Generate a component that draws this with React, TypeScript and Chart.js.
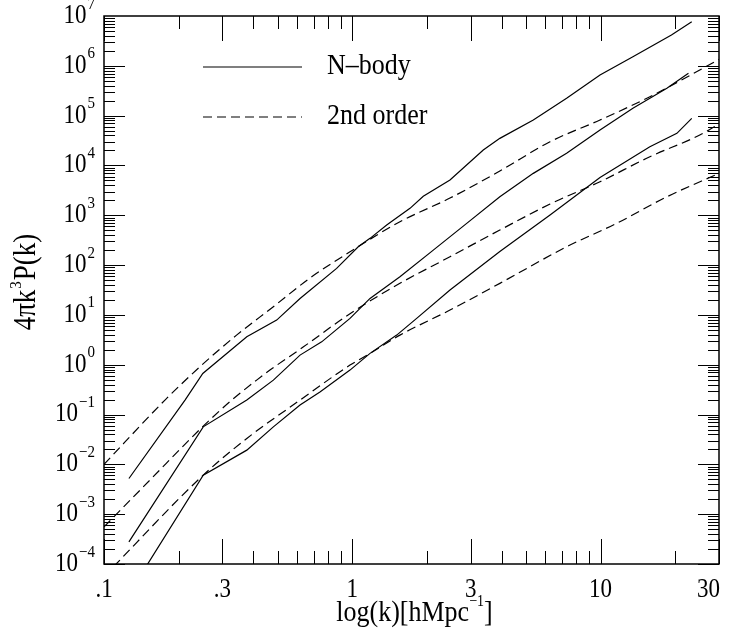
import React, { useEffect, useRef } from "react";
import { Chart, registerables } from "chart.js";
Chart.register(...registerables);

// ---- data (k in h/Mpc, 4*pi*k^3*P(k)) ----
const nbody1K = [0.126, 0.212, 0.25, 0.376, 0.496, 0.616, 0.865, 1.057, 1.179, 1.376, 1.708, 1.932, 2.475, 3.37, 3.93, 5.36, 7.3, 9.95, 13.5, 19.3, 23.3];
const nbody1P = [5.2e-3, 0.195, 0.668, 3.63, 7.87, 21.4, 85.9, 233, 344, 635, 1377, 2400, 5093, 20370, 34990, 81660, 222300, 653100, 1.524e6, 4.15e6, 7.69e6];

const second1K = [0.1, 0.176, 0.2475, 0.342, 0.481, 0.675, 0.979, 1.556, 2.475, 3.93, 6.26, 9.95, 15.8, 25.1, 30];
const second1P = [0.01, 0.195, 0.982, 3.93, 14.6, 54.8, 185, 741, 2213, 7727, 29920, 81660, 239900, 824100, 1.349e6];

const nbody2K = [0.126, 0.251, 0.376, 0.481, 0.616, 0.753, 0.979, 1.179, 1.556, 2.12, 2.89, 3.93, 5.36, 7.3, 9.95, 13.5, 18.5, 22.6];
const nbody2P = [2.78e-4, 0.0566, 0.195, 0.491, 1.56, 2.88, 8.51, 21.4, 58.2, 200, 687, 2350, 6934, 17500, 51400, 140300, 353200, 706300];

const second2K = [0.1, 0.153, 0.251, 0.327, 0.412, 0.466, 0.634, 0.979, 1.556, 2.475, 3.93, 6.26, 9.95, 15.8, 25.1, 30];
const second2P = [5.56e-4, 4.82e-3, 0.0585, 0.195, 0.491, 0.78, 2.26, 10.6, 43.0, 147, 505, 1679, 4710, 14960, 40740, 67760];

const nbody3K = [0.126, 0.251, 0.376, 0.481, 0.616, 0.741, 0.979, 1.179, 1.51, 1.817, 2.475, 3.93, 6.26, 9.95, 15.8, 20.3, 23.3];
const nbody3P = [2.5e-5, 6.07e-3, 0.0193, 0.0566, 0.155, 0.285, 0.78, 1.69, 3.93, 8.51, 31.5, 186.6, 1009, 5715, 23770, 44160, 88310];

const second3K = [0.1, 0.251, 0.376, 0.616, 0.979, 1.179, 1.556, 2.475, 3.93, 7.3, 11.6, 18.5, 30];
const second3P = [5.61e-5, 6.07e-3, 0.0331, 0.195, 0.982, 1.69, 3.93, 12.5, 43.0, 233, 687, 2350, 6934];

const xTickValues = [0.1, 0.3, 1, 3, 10, 30];
const xTickLabels = [".1", ".3", "1", "3", "10", "30"];
const yTickExponents = [-4, -3, -2, -1, 0, 1, 2, 3, 4, 5, 6, 7];
const legendLabels = ["N\u2013body", "2nd order"];

const X_MIN = 0.1, X_MAX = 30, Y_MIN = 1e-4, Y_MAX = 1e7;
const FONT = "'Liberation Serif', 'DejaVu Serif', serif";
const STRETCH = 1.15;

function txt(ctx: CanvasRenderingContext2D, s: string, x: number, y: number, size: number, align: CanvasTextAlign) {
  ctx.save();
  ctx.translate(x, y);
  ctx.scale(1, STRETCH);
  ctx.font = `${size}px ${FONT}`;
  ctx.textAlign = align;
  ctx.textBaseline = "middle";
  ctx.fillText(s, 0, 0);
  ctx.restore();
}
function w(ctx: CanvasRenderingContext2D, s: string, size: number) {
  ctx.save();
  ctx.font = `${size}px ${FONT}`;
  const m = ctx.measureText(s).width;
  ctx.restore();
  return m;
}

const decorPlugin = {
  id: "decor",
  afterDraw(chart: any) {
    const ctx: CanvasRenderingContext2D = chart.ctx;
    const { left, right, top, bottom } = chart.chartArea;
    const xs = chart.scales.x, ys = chart.scales.y;
    ctx.save();
    ctx.strokeStyle = "#000";
    ctx.fillStyle = "#000";
    ctx.lineWidth = 1;
    const isMajorX = (v: number) => xTickValues.some((t) => Math.abs(Math.log10(t) - Math.log10(v)) < 1e-6);
    // x ticks
    for (let e = -1; e <= 1; e++) {
      for (let m = 1; m <= 9; m++) {
        const v = m * Math.pow(10, e);
        if (v < X_MIN * 0.999 || v > X_MAX * 1.001) continue;
        const px = Math.round(xs.getPixelForValue(v)) + 0.5;
        const len = isMajorX(v) ? 25 : 13;
        ctx.beginPath();
        ctx.moveTo(px, bottom); ctx.lineTo(px, bottom - len);
        ctx.moveTo(px, top); ctx.lineTo(px, top + len);
        ctx.stroke();
      }
    }
    // y ticks
    for (let e = -4; e <= 6; e++) {
      for (let m = 1; m <= 9; m++) {
        const v = m * Math.pow(10, e);
        const py = Math.round(ys.getPixelForValue(v)) + 0.5;
        const len = m === 1 ? 21 : 11;
        ctx.beginPath();
        ctx.moveTo(left, py); ctx.lineTo(left + len, py);
        ctx.moveTo(right, py); ctx.lineTo(right - len, py);
        ctx.stroke();
      }
    }
    // frame
    ctx.lineWidth = 1.5;
    ctx.strokeRect(left, top, right - left, bottom - top);

    // y tick labels
    const base = 23, sup = 15;
    yTickExponents.forEach((e) => {
      const py = ys.getPixelForValue(Math.pow(10, e));
      const es = (e < 0 ? "\u2212" : "") + Math.abs(e);
      const we = w(ctx, es, sup);
      const xr = left - 9;
      txt(ctx, "10", xr - we - 1, py, base, "right");
      txt(ctx, es, xr - we, py - 12, sup, "left");
    });
    // x tick labels
    xTickValues.forEach((v, i) => {
      let px = xs.getPixelForValue(v);
      const tw = w(ctx, xTickLabels[i], base);
      if (px + tw / 2 > right + 1) px = right + 1 - tw / 2;
      txt(ctx, xTickLabels[i], px, bottom + 26, base, "center");
    });
    // x title
    {
      const a = "log(k)[hMpc", s = "\u22121", b = "]";
      const size = 26, ss = 14;
      const wa = w(ctx, a, size), ws = w(ctx, s, ss), wb = w(ctx, b, size);
      const total = wa + ws + wb;
      const cx = (left + right) / 2 + 3;
      const x0 = cx - total / 2;
      const y0 = bottom + 49;
      txt(ctx, a, x0, y0, size, "left");
      txt(ctx, s, x0 + wa, y0 - 11, ss, "left");
      txt(ctx, b, x0 + wa + ws, y0, size, "left");
    }
    // y title (rotated)
    {
      ctx.save();
      ctx.translate(27, (top + bottom) / 2 - 8);
      ctx.rotate(-Math.PI / 2);
      const a = "4\u03C0k", s = "3", b = "P(k)";
      const size = 27, ss = 15;
      const wa = w(ctx, a, size), ws = w(ctx, s, ss), wb = w(ctx, b, size);
      const total = wa + ws + wb + 2;
      const x0 = -total / 2;
      txt(ctx, a, x0, 0, size, "left");
      txt(ctx, s, x0 + wa + 1, -11, ss, "left");
      txt(ctx, b, x0 + wa + ws + 2, 0, size, "left");
      ctx.restore();
    }
    // legend
    {
      const lx0 = left + 99, lx1 = left + 198, tx = left + 223;
      const rows = [top + 51, top + 101];
      ctx.lineWidth = 1.2;
      rows.forEach((ry, i) => {
        ctx.beginPath();
        ctx.setLineDash(i === 0 ? [] : [9, 5]);
        ctx.moveTo(lx0, ry); ctx.lineTo(lx1, ry);
        ctx.stroke();
        ctx.setLineDash([]);
        txt(ctx, legendLabels[i], tx, ry - 1, 26, "left");
      });
    }
    ctx.restore();
  },
};

function series(k: number[], p: number[]) {
  return k.map((kv, i) => ({ x: kv, y: p[i] }));
}

export default function App() {
  const ref = useRef<HTMLCanvasElement>(null);
  useEffect(() => {
    if (!ref.current) return;
    const mk = (label: string, k: number[], p: number[], dashed: boolean) => ({
      label,
      data: series(k, p),
      showLine: true,
      borderColor: "#000",
      backgroundColor: "#000",
      borderWidth: 1.2,
      borderDash: dashed ? [9, 5] : [],
      pointRadius: 0,
      tension: dashed ? 0.4 : 0,
      cubicInterpolationMode: dashed ? "monotone" : "default",
      fill: false,
    });
    const chart = new Chart(ref.current, {
      type: "scatter",
      data: {
        datasets: [
          mk("N-body 1", nbody1K, nbody1P, false),
          mk("2nd order 1", second1K, second1P, true),
          mk("N-body 2", nbody2K, nbody2P, false),
          mk("2nd order 2", second2K, second2P, true),
          mk("N-body 3", nbody3K, nbody3P, false),
          mk("2nd order 3", second3K, second3P, true),
        ],
      },
      options: {
        responsive: false,
        animation: false,
        layout: { padding: { left: 104, right: 11, top: 16, bottom: 68 } },
        plugins: { legend: { display: false }, tooltip: { enabled: false }, title: { display: false } },
        scales: {
          x: { type: "logarithmic", min: X_MIN, max: X_MAX, display: false },
          y: { type: "logarithmic", min: Y_MIN, max: Y_MAX, display: false },
        },
      },
      plugins: [decorPlugin],
    } as any);
    return () => chart.destroy();
  }, []);
  return (
    <canvas
      ref={ref}
      width={730}
      height={632}
      style={{ display: "block", position: "absolute", left: 0, top: 0 }}
    />
  );
}
